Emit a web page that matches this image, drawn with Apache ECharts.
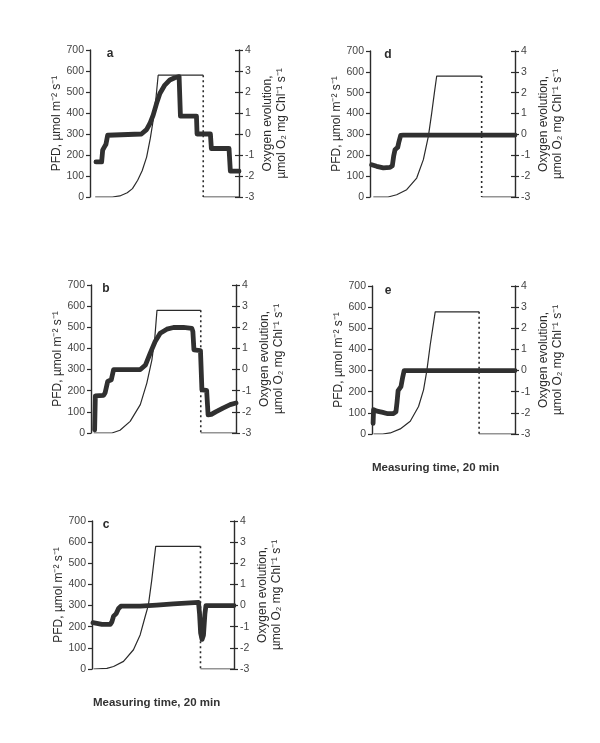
<!DOCTYPE html>
<html><head><meta charset="utf-8">
<script src="https://cdn.jsdelivr.net/npm/echarts@6/dist/echarts.min.js"></script>
<style>html,body{margin:0;padding:0;background:#fff}#c{width:600px;height:743px}</style>
</head><body><div id="c"></div>
<script>
// ---- data (time in min, PFD in µmol m-2 s-1, O2 in µmol O2 mg Chl-1 s-1) ----
const panelLetters = ['a', 'b', 'c', 'd', 'e'];
const pfdRange = [0, 700];
const o2Range = [-3, 4];
const timeRange = [0, 20];

const lightA = [[0.7,0],[3.0,0],[4.0,5],[5.0,20],[5.7,40],[6.4,80],[7.0,125],[7.6,190],[8.1,280],[8.5,370],[8.85,470],[9.15,580],[15.2,580]];
const offA = 15.2;
const oxygenA = [[0.8,-1.33],[1.56,-1.33],[1.7,-0.77],[1.88,-0.65],[2.14,-0.49],[2.37,-0.06],[2.59,0],[6.9,0],[7.14,0.05],[7.59,0.21],[8.04,0.5],[8.48,0.9],[8.93,1.45],[9.38,1.93],[10.04,2.33],[10.71,2.57],[11.38,2.68],[11.96,2.73],[12.1,2.73],[12.14,0.85],[14.29,0.85],[14.37,0],[16.16,0],[16.29,-0.69],[18.66,-0.69],[18.84,-1.77],[20,-1.77]];

const lightB = [[0.37,0],[2.9,0],[4.0,13],[5.4,55],[6.8,134],[7.7,236],[8.4,346],[8.8,450],[9.1,580],[15.14,580]];
const offB = 15.14;
const oxygenB = [[0.5,-2.85],[0.6,-1.24],[1.74,-1.22],[1.95,-1.1],[2.3,-0.56],[2.8,-0.48],[3.12,0],[6.8,0],[7.52,0.22],[8.17,0.78],[8.85,1.33],[9.54,1.72],[10.46,1.91],[11.38,1.99],[12.75,2.0],[13.9,1.95],[14.05,1.8],[14.2,0.93],[15.1,0.9],[15.3,-0.96],[15.95,-0.98],[16.15,-2.14],[16.6,-2.12],[17.2,-2.0],[18.2,-1.82],[19.2,-1.66],[20,-1.58]];

const lightC = [[0.23,0],[2.1,3],[3.04,12],[4.44,36],[5.84,91],[6.78,161],[7.48,247],[7.94,302],[8.41,419],[8.97,580],[15.28,580]];
const offC = 15.28;
const oxygenC = [[0.14,-0.81],[1.4,-0.89],[2.57,-0.89],[2.8,-0.77],[3.04,-0.5],[3.41,-0.38],[3.74,-0.14],[4.07,-0.03],[6.78,-0.03],[9.11,0.02],[11.45,0.08],[13.79,0.13],[15.0,0.15],[15.15,-0.4],[15.3,-1.3],[15.5,-1.6],[15.7,-1.4],[15.9,-0.4],[16.05,0],[20,0]];

const lightD = [[0.46,0],[2.5,0],[3.68,11],[5.06,35],[6.44,91],[7.36,179],[8.05,291],[8.51,402],[8.87,497],[9.2,580],[15.4,580]];
const offD = 15.4;
const oxygenD = [[0.23,-1.45],[0.92,-1.53],[1.84,-1.6],[2.76,-1.58],[3.08,-1.5],[3.26,-1.05],[3.45,-0.74],[3.82,-0.62],[4.0,-0.34],[4.23,-0.05],[4.6,-0.03],[20,-0.03]];

const lightE = [[0.23,0],[1.5,0],[2.56,5],[3.95,24],[5.35,60],[6.51,130],[7.21,209],[7.67,300],[8.14,421],[8.84,578],[14.98,578]];
const offE = 14.98;
const oxygenE = [[0.15,-2.5],[0.22,-1.85],[0.7,-1.92],[1.5,-1.98],[2.2,-2.04],[3.0,-2.03],[3.35,-1.95],[3.5,-1.5],[3.65,-0.95],[4.05,-0.76],[4.3,-0.3],[4.5,0],[20,0]];

const leftAxisName = 'PFD, µmol m⁻² s⁻¹';
const rightAxisName = 'Oxygen evolution,\nµmol O₂ mg Chl⁻¹ s⁻¹';
const xAxisTitle = 'Measuring time, 20 min';

// ---- layout ----
const panels = [
  {letter: 'a', light: lightA, off: offA, oxygen: oxygenA, grid: {left: 90, top: 50, width: 149, height: 147}, lx: 110, ly: 54},
  {letter: 'b', light: lightB, off: offB, oxygen: oxygenB, grid: {left: 91, top: 285, width: 145, height: 148}, lx: 106, ly: 289},
  {letter: 'c', light: lightC, off: offC, oxygen: oxygenC, grid: {left: 92, top: 521, width: 142, height: 148}, lx: 106, ly: 525},
  {letter: 'd', light: lightD, off: offD, oxygen: oxygenD, grid: {left: 370, top: 51, width: 145, height: 146}, lx: 388, ly: 55},
  {letter: 'e', light: lightE, off: offE, oxygen: oxygenE, grid: {left: 372, top: 286, width: 143, height: 148}, lx: 388, ly: 291}
];

const FONT = 'Liberation Sans, Arial, Helvetica, sans-serif';
const INK = '#2b2b2b';

const grids = [], xAxes = [], yAxes = [], series = [], graphics = [];
panels.forEach((p, i) => {
  grids.push(Object.assign({containLabel: false}, p.grid));
  xAxes.push({type: 'value', gridIndex: i, min: timeRange[0], max: timeRange[1], show: false});
  const li = yAxes.length;
  yAxes.push({
    type: 'value', gridIndex: i, position: 'left', min: pfdRange[0], max: pfdRange[1], interval: 100,
    axisLine: {show: true, lineStyle: {color: INK, width: 1.4}},
    axisTick: {show: true, inside: false, length: 4, lineStyle: {color: INK, width: 1.2}},
    axisLabel: {fontSize: 10.5, color: '#444', margin: 6, fontFamily: FONT},
    splitLine: {show: false},
    name: leftAxisName, nameLocation: 'middle', nameGap: 23,
    nameTextStyle: {fontSize: 12, color: INK, fontFamily: FONT}
  });
  const ri = yAxes.length;
  yAxes.push({
    type: 'value', gridIndex: i, position: 'right', min: o2Range[0], max: o2Range[1], interval: 1,
    axisLine: {show: true, lineStyle: {color: INK, width: 1.4}},
    axisTick: {show: true, inside: false, length: 4, lineStyle: {color: INK, width: 1.2}},
    axisLabel: {fontSize: 10.5, color: '#444', margin: 6, fontFamily: FONT},
    splitLine: {show: false},
    name: rightAxisName, nameLocation: 'middle', nameGap: 22,
    nameTextStyle: {fontSize: 12, color: INK, fontFamily: FONT, lineHeight: 14}
  });
  yAxes.push({
    type: 'value', gridIndex: i, position: 'right', min: o2Range[0], max: o2Range[1], interval: 1,
    axisLine: {show: false},
    axisTick: {show: true, inside: true, length: 4, lineStyle: {color: INK, width: 1.2}},
    axisLabel: {show: false}, splitLine: {show: false}
  });
  const plateau = p.light[p.light.length - 1][1];
  const thin = {color: INK, width: 1.2};
  series.push({type: 'line', xAxisIndex: i, yAxisIndex: li, data: p.light, showSymbol: false, lineStyle: thin, silent: true});
  series.push({type: 'line', xAxisIndex: i, yAxisIndex: li, data: [[p.off, plateau], [p.off, pfdRange[0]]], showSymbol: false, lineStyle: {color: INK, width: 1.6, type: [2, 3]}, silent: true});
  series.push({type: 'line', xAxisIndex: i, yAxisIndex: li, data: [[p.off, pfdRange[0]], [timeRange[1], pfdRange[0]]], showSymbol: false, lineStyle: thin, silent: true});
  series.push({type: 'line', xAxisIndex: i, yAxisIndex: ri, data: p.oxygen, showSymbol: false, lineStyle: {color: '#303030', width: 4.8, join: 'round', cap: 'round'}, silent: true});
  graphics.push({type: 'text', x: p.lx, y: p.ly, style: {text: p.letter, font: 'bold 12px ' + FONT, fill: INK, textAlign: 'center', textVerticalAlign: 'middle'}});
});
graphics.push({type: 'text', x: 93, y: 703, style: {text: xAxisTitle, font: 'bold 11.5px ' + FONT, fill: '#333', textAlign: 'left', textVerticalAlign: 'middle'}});
graphics.push({type: 'text', x: 372, y: 468, style: {text: xAxisTitle, font: 'bold 11.5px ' + FONT, fill: '#333', textAlign: 'left', textVerticalAlign: 'middle'}});

const chart = echarts.init(document.getElementById('c'), null, {renderer: 'canvas'});
chart.setOption({
  animation: false,
  backgroundColor: '#fff',
  textStyle: {fontFamily: FONT},
  grid: grids, xAxis: xAxes, yAxis: yAxes, series: series, graphic: graphics
});
</script></body></html>
